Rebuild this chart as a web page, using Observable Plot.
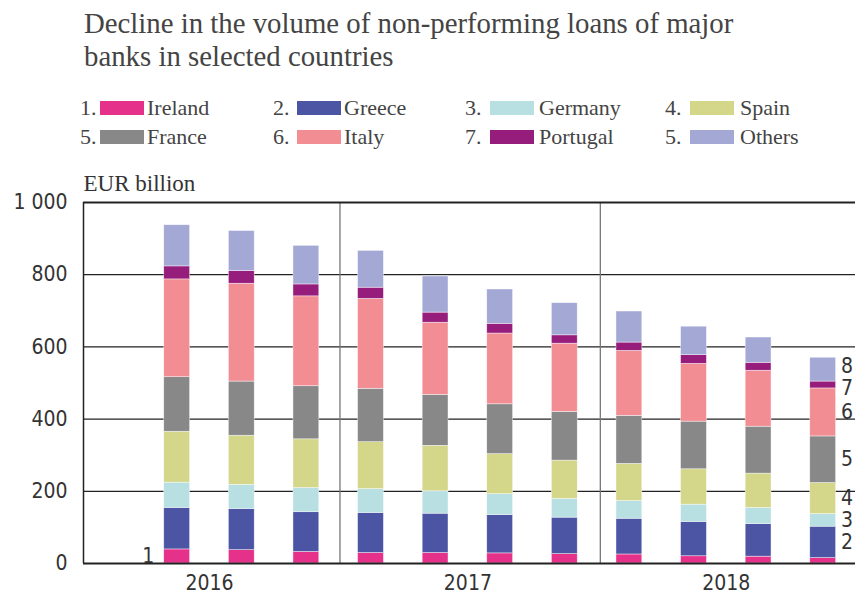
<!DOCTYPE html>
<html>
<head>
<meta charset="utf-8">
<script src="https://cdn.jsdelivr.net/npm/d3@7"></script>
<script src="https://cdn.jsdelivr.net/npm/@observablehq/plot@0.6"></script>
<style>
  body { margin: 0; background: #fff; }
  #wrap { position: relative; width: 855px; height: 598px; overflow: hidden; }
  #title { position: absolute; left: 84px; top: 7px; font-family: "Liberation Serif", serif; font-size: 28.8px; line-height: 33px; color: #444; }
  .lg { position: absolute; font-family: "Liberation Serif", serif; font-size: 22px; color: #444; display: flex; align-items: center; height: 24px; white-space: nowrap; }
  .lg .sw { width: 44px; height: 14px; }
  #chart { position: absolute; left: 0; top: 165px; }
</style>
</head>
<body>
<div id="wrap">
  <div id="title">Decline in the volume of non-performing loans of major<br>banks in selected countries</div>
  <div id="legend"></div>
  <div id="chart"></div>
</div>
<script>
// ---- data ----
const countries = ["Ireland", "Greece", "Germany", "Spain", "France", "Italy", "Portugal", "Others"];
const legendNumbers = ["1.", "2.", "3.", "4.", "5.", "6.", "7.", "5."];
const barLabels = ["1", "2", "3", "4", "5", "6", "7", "8"];
const colors = ["#e6318a", "#4c55a3", "#b8dfe1", "#d4d68a", "#888888", "#f28d94", "#961d7c", "#a4a8d5"];
const slots = [1, 2, 3, 4, 5, 6, 7, 8, 9, 10, 11]; // slot 0 (first of 2016) is empty
const years = ["2016", "2017", "2018"];
const yearSlots = [[0, 1, 2, 3], [4, 5, 6, 7], [8, 9, 10, 11]];
const yTicks = [0, 200, 400, 600, 800, 1000];

const ireland  = [39, 37, 32, 29, 29, 28, 26, 25, 20, 19, 15];
const greece   = [115, 114, 110, 111, 109, 106, 101, 99, 95, 90, 87];
const germany  = [70, 67, 67, 66, 62, 58, 52, 49, 48, 45, 35];
const spain    = [141, 136, 135, 130, 126, 111, 106, 103, 98, 95, 86];
const france   = [151, 150, 147, 148, 141, 138, 135, 133, 132, 130, 129];
const italy    = [271, 271, 249, 249, 200, 196, 189, 180, 160, 155, 133];
const portugal = [36, 35, 33, 31, 28, 27, 23, 23, 24, 22, 19];
const others   = [114, 111, 107, 102, 100, 95, 89, 86, 79, 70, 66];

const series = [ireland, greece, germany, spain, france, italy, portugal, others];

// ---- legend (HTML) ----
const legend = document.getElementById("legend");
const colLeft = [80, 273, 465, 665];
const numWidth = [20, 24, 25, 25];
const labelGap = [3, 3, 5, 6];
const rowTop = [96, 125];
countries.forEach((c, i) => {
  const col = i % 4, row = Math.floor(i / 4);
  const el = document.createElement("div");
  el.className = "lg";
  el.style.left = colLeft[col] + "px";
  el.style.top = rowTop[row] + "px";
  el.innerHTML = `<span style="width:${numWidth[col]}px">${legendNumbers[i]}</span><span class="sw" style="background:${colors[i]};margin-right:${labelGap[col]}px"></span><span>${c}</span>`;
  legend.appendChild(el);
});

// ---- long table ----
const rows = [];
series.forEach((vals, k) => vals.forEach((v, j) => rows.push({slot: slots[j], country: countries[k], value: v})));

// segment midpoints for labels, with a minimum spacing so labels don't collide
function segMid(j, k) {
  let base = 0;
  for (let m = 0; m < k; m++) base += series[m][j];
  return base + series[k][j] / 2;
}
const last = slots.length - 1;
const minGap = 60; // in data units (~22px)
const rightLabels = countries.slice(1).map((c, i) => ({slot: slots[last], y: segMid(last, i + 1), text: barLabels[i + 1]}));
for (let pass = 0; pass < 3; pass++) {
  for (let i = rightLabels.length - 1; i > 0; i--) {
    const up = rightLabels[i], lo = rightLabels[i - 1];
    const gap = up.y - lo.y;
    if (gap < minGap) {
      const shift = (minGap - gap) / 2;
      up.y += shift; lo.y -= shift;
    }
  }
}
const leftLabel = [{slot: slots[0], y: segMid(0, 0), text: barLabels[0]}];

const xDomain = [-0.45, 11.5];
const half = 0.2;
const separators = [3.52, 7.55];
const yearPos = yearSlots.map(s => d3.mean(s));

const fmt = d => d3.format(",")(d).replace(/,/g, " ");

const plot = Plot.plot({
  width: 855,
  height: 433,
  marginTop: 37,
  marginBottom: 35,
  marginLeft: 83,
  marginRight: 0,
  style: {fontFamily: "'DejaVu Sans Condensed', 'DejaVu Sans', sans-serif", fontSize: "21px", color: "#333", background: "white"},
  x: {domain: xDomain, axis: null},
  y: {domain: [0, 1000], axis: null},
  color: {domain: countries, range: colors},
  marks: [
    Plot.ruleY(yTicks.filter(t => t > 0 && t < 1000), {stroke: "#222", strokeWidth: 1.2}),
    Plot.ruleX(separators, {stroke: "#777", strokeWidth: 1.3}),
    Plot.rectY(rows, Plot.stackY({
      x1: d => d.slot - half,
      x2: d => d.slot + half,
      y: "value",
      fill: "country",
      stroke: "white",
      strokeWidth: 0.6,
      strokeOpacity: 0.7
    })),
    Plot.ruleY([0], {stroke: "#222", strokeWidth: 2}),
    Plot.ruleY([1000], {stroke: "#222", strokeWidth: 2}),
    Plot.ruleX([xDomain[0]], {stroke: "#222", strokeWidth: 1.5}),
    Plot.axisY({ticks: yTicks, tickSize: 0, tickPadding: 16, tickFormat: fmt, fontSize: 21}),
    Plot.axisX({ticks: yearPos, tickSize: 0, tickPadding: 12, tickFormat: (d, i) => years[i], fontSize: 21}),
    Plot.text(rightLabels, {x: d => d.slot + half, y: "y", text: "text", dx: 5, textAnchor: "start", fontSize: 21, fill: "#333"}),
    Plot.text(leftLabel, {x: d => d.slot - half, y: "y", text: "text", dx: -10, textAnchor: "end", fontSize: 21, fill: "#333"}),
    Plot.text(["EUR billion"], {x: xDomain[0], y: 1000, text: d => d, dy: -19, textAnchor: "start", fontFamily: "'Liberation Serif', serif", fontSize: 23, fill: "#333"})
  ]
});
document.getElementById("chart").appendChild(plot);
</script>
</body>
</html>
